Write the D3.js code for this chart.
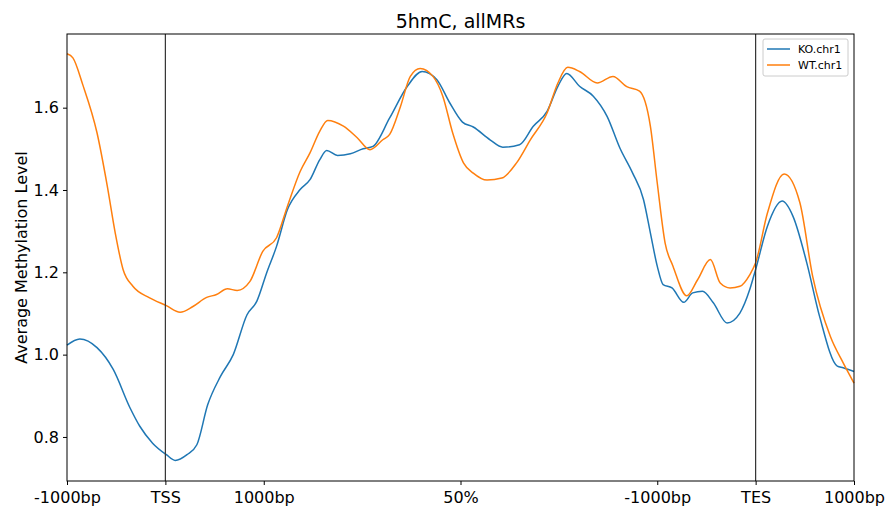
<!DOCTYPE html>
<html>
<head>
<meta charset="utf-8">
<script src="https://cdn.jsdelivr.net/npm/d3@7"></script>
<style>
  body { margin: 0; background: #fff; }
  text { font-family: "DejaVu Sans", sans-serif; fill: #000; }
</style>
</head>
<body>
<div id="chart"></div>
<script>
// bin positions (0..80) and values
const koBins = [0,1.3,3.05,4.7,6.4,7.4,8.7,10.1,11,12.2,13.2,14.3,15.6,16.9,18.3,19.3,20.3,21.3,22.4,23.7,24.7,25.7,26.4,27.5,28.8,30.1,31.1,32.8,34.6,36.1,37.6,38.9,40.2,41.3,43,44.3,46,47.4,48.8,49.9,50.8,52.1,53.5,54.9,56.2,57.5,58.6,59.3,60,60.6,61.5,62.7,63.6,64.6,65.7,67.1,68.4,69.4,70,71.2,72.7,73.8,75.2,76.5,78.3,78.9,80];
const koVals = [1.023,1.038,1.017,0.964,0.871,0.826,0.785,0.757,0.743,0.757,0.781,0.878,0.947,1.0,1.097,1.13,1.199,1.263,1.352,1.401,1.425,1.474,1.496,1.484,1.488,1.5,1.506,1.575,1.652,1.688,1.668,1.612,1.565,1.553,1.522,1.504,1.51,1.555,1.591,1.652,1.683,1.652,1.628,1.579,1.502,1.441,1.377,1.296,1.215,1.17,1.162,1.127,1.15,1.154,1.126,1.077,1.101,1.158,1.207,1.312,1.373,1.336,1.223,1.093,0.972,0.968,0.959];

const wtBins = [0,0.6,1.6,3.05,4.1,4.9,5.7,6.7,8.4,10.1,11.5,12.8,14.2,15.2,16.3,17.3,18.6,19.9,21.3,22.4,23.7,24.7,25.7,26.5,28.1,29.5,30.8,32.1,32.8,33.9,34.9,35.9,37.2,38.2,39.2,40.3,41.3,42.7,44.2,45.7,47.1,48.8,49.9,50.9,52.1,53.9,55.5,56.9,58.2,59.3,60,60.8,61.6,63,64.1,65.4,66.4,67.4,68.4,69.4,70,71.2,72.9,74.5,75.8,77.6,78.9,80];
const wtVals = [1.731,1.721,1.656,1.539,1.409,1.296,1.207,1.166,1.138,1.119,1.103,1.117,1.139,1.146,1.16,1.156,1.178,1.251,1.284,1.36,1.445,1.49,1.543,1.569,1.555,1.527,1.498,1.522,1.535,1.603,1.676,1.695,1.676,1.628,1.539,1.466,1.441,1.424,1.429,1.466,1.522,1.587,1.66,1.698,1.688,1.66,1.676,1.651,1.64,1.555,1.417,1.271,1.215,1.143,1.182,1.231,1.174,1.162,1.166,1.194,1.223,1.344,1.439,1.369,1.19,1.044,0.98,0.931];

const tickBins = [0,10,20,40,60,70,80];
const tickLabels = ["-1000bp","TSS","1000bp","50%","-1000bp","TES","1000bp"];
const markerBins = [10,70];
const yTicks = [0.8,1.0,1.2,1.4,1.6];

const seriesNames = ["KO.chr1","WT.chr1"];
const seriesColors = ["#1f77b4","#ff7f0e"];

const width = 886, height = 509;
const margin = {top: 34, right: 32, bottom: 28, left: 67};

const svg = d3.select("#chart").append("svg")
  .attr("width", width).attr("height", height);

const x = d3.scaleLinear().domain([0,80]).range([margin.left, width - margin.right]);
const y = d3.scaleLinear().domain([0.693,1.779]).range([height - margin.bottom, margin.top]);

const series = [
  {name: seriesNames[0], color: seriesColors[0], pts: koBins.map((b,i)=>[b,koVals[i]])},
  {name: seriesNames[1], color: seriesColors[1], pts: wtBins.map((b,i)=>[b,wtVals[i]])}
];

const line = d3.line()
  .x(d => x(d[0])).y(d => y(d[1]))
  .curve(d3.curveMonotoneX);

svg.append("g").selectAll("path")
  .data(series)
  .join("path")
  .attr("d", d => line(d.pts))
  .attr("fill","none")
  .attr("stroke", d => d.color)
  .attr("stroke-width",1.5);

// TSS / TES lines
svg.append("g").selectAll("line")
  .data(markerBins)
  .join("line")
  .attr("x1", d => x(d)).attr("x2", d => x(d))
  .attr("y1", y.range()[0]).attr("y2", y.range()[1])
  .attr("stroke","#333").attr("stroke-width",1.2);

// axes
const xAxis = svg.append("g")
  .attr("transform", `translate(0,${height - margin.bottom})`)
  .call(d3.axisBottom(x).tickValues(tickBins).tickFormat((d,i)=>tickLabels[i]).tickSize(4).tickPadding(4));
const yAxis = svg.append("g")
  .attr("transform", `translate(${margin.left},0)`)
  .call(d3.axisLeft(y).tickValues(yTicks).tickFormat(d3.format(".1f")).tickSize(4).tickPadding(4));

[xAxis, yAxis].forEach(g => {
  g.select(".domain").remove();
  g.selectAll("text").style("font-size","16px").attr("fill","#000");
  g.selectAll("line").attr("stroke","#000");
});
xAxis.selectAll("text").attr("dy","0.85em");

// frame
svg.append("rect")
  .attr("x", margin.left).attr("y", margin.top)
  .attr("width", width - margin.left - margin.right)
  .attr("height", height - margin.top - margin.bottom)
  .attr("fill","none").attr("stroke","#000").attr("stroke-width",1);

svg.append("text")
  .attr("x", (margin.left + width - margin.right)/2).attr("y", 28)
  .attr("text-anchor","middle").style("font-size","19px")
  .text("5hmC, allMRs");

svg.append("text")
  .attr("transform", `translate(27,${(margin.top + height - margin.bottom)/2}) rotate(-90)`)
  .attr("text-anchor","middle").style("font-size","16px")
  .text("Average Methylation Level");

// legend
const lg = svg.append("g").attr("transform","translate(763,39)");
lg.append("rect").attr("width",85).attr("height",37).attr("rx",2)
  .attr("fill","#fff").attr("stroke","#ccc").attr("stroke-width",1);
series.forEach((s,i) => {
  lg.append("line").attr("x1",4).attr("x2",27).attr("y1",10+i*16).attr("y2",10+i*16)
    .attr("stroke",s.color).attr("stroke-width",1.5);
  lg.append("text").attr("x",35).attr("y",14+i*16).style("font-size","11px").text(s.name);
});
</script>
</body>
</html>
